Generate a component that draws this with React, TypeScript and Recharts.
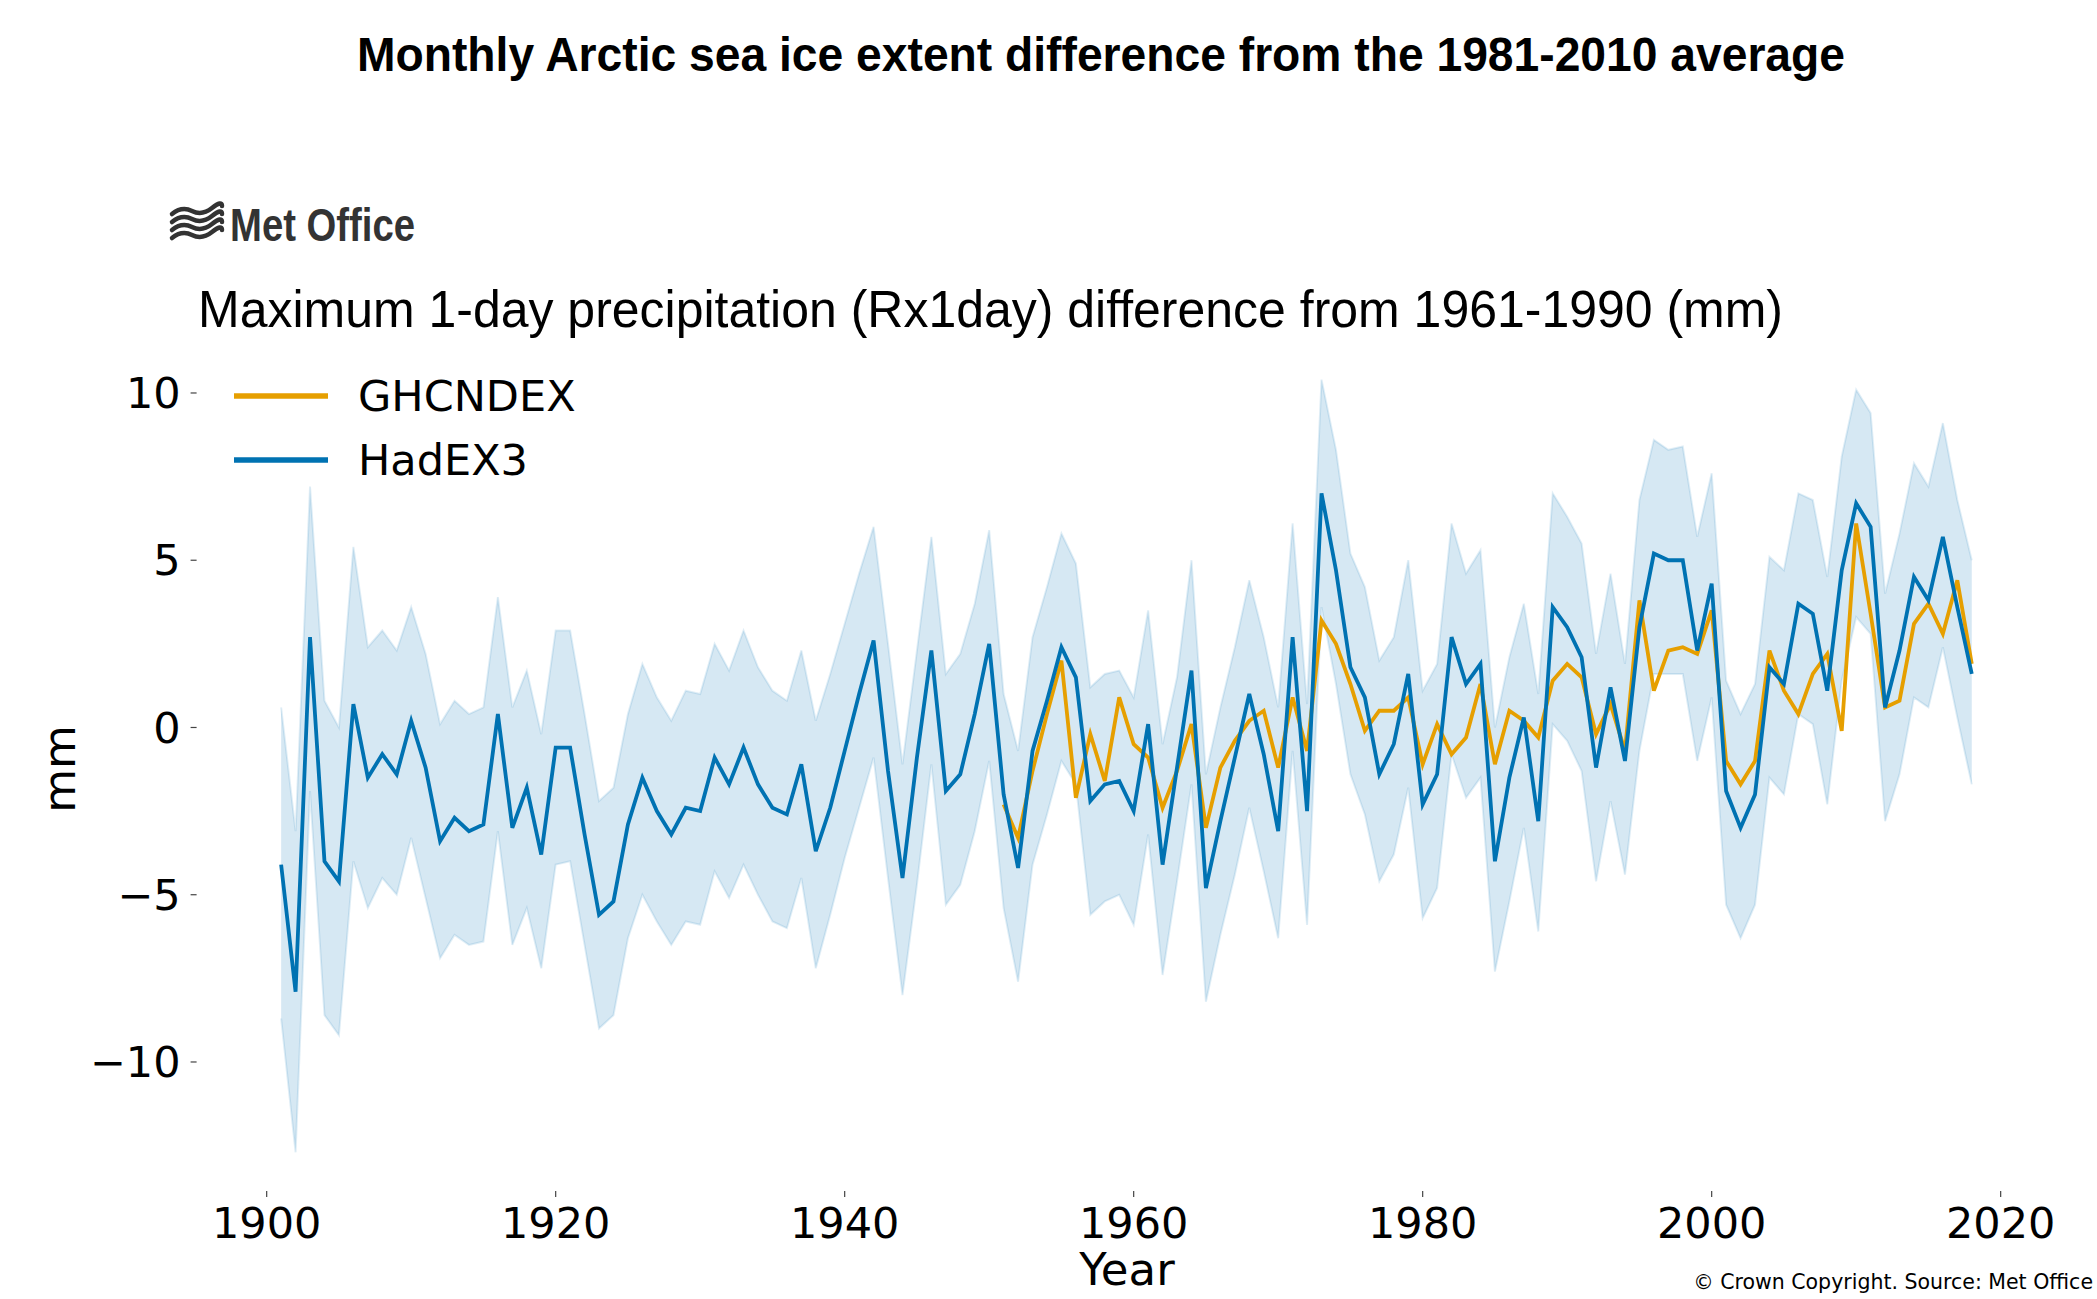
import React from 'react';
import { ComposedChart, Line, Area, XAxis, YAxis } from 'recharts';

const YEARS: number[] = [
  1901, 1902, 1903, 1904, 1905, 1906, 1907, 1908, 1909, 1910,
  1911, 1912, 1913, 1914, 1915, 1916, 1917, 1918, 1919, 1920,
  1921, 1922, 1923, 1924, 1925, 1926, 1927, 1928, 1929, 1930,
  1931, 1932, 1933, 1934, 1935, 1936, 1937, 1938, 1939, 1940,
  1941, 1942, 1943, 1944, 1945, 1946, 1947, 1948, 1949, 1950,
  1951, 1952, 1953, 1954, 1955, 1956, 1957, 1958, 1959, 1960,
  1961, 1962, 1963, 1964, 1965, 1966, 1967, 1968, 1969, 1970,
  1971, 1972, 1973, 1974, 1975, 1976, 1977, 1978, 1979, 1980,
  1981, 1982, 1983, 1984, 1985, 1986, 1987, 1988, 1989, 1990,
  1991, 1992, 1993, 1994, 1995, 1996, 1997, 1998, 1999, 2000,
  2001, 2002, 2003, 2004, 2005, 2006, 2007, 2008, 2009, 2010,
  2011, 2012, 2013, 2014, 2015, 2016, 2017, 2018,
];

const HADEX3: number[] = [
  -4.1, -7.9, 2.7, -4.0, -4.6, 0.7, -1.5, -0.8, -1.4, 0.2,
  -1.2, -3.4, -2.7, -3.1, -2.9, 0.4, -3.0, -1.8, -3.8, -0.6,
  -0.6, -3.2, -5.6, -5.2, -2.9, -1.5, -2.5, -3.2, -2.4, -2.5,
  -0.9, -1.7, -0.6, -1.7, -2.4, -2.6, -1.1, -3.7, -2.4, -0.7,
  1.0, 2.6, -1.3, -4.5, -0.9, 2.3, -1.9, -1.4, 0.4, 2.5,
  -2.0, -4.2, -0.7, 0.8, 2.4, 1.5, -2.2, -1.7, -1.6, -2.5,
  0.1, -4.1, -1.2, 1.7, -4.8, -2.8, -0.9, 1.0, -0.8, -3.1,
  2.7, -2.5, 7.0, 4.7, 1.8, 0.9, -1.4, -0.5, 1.6, -2.3,
  -1.4, 2.7, 1.3, 1.9, -4.0, -1.5, 0.3, -2.8, 3.6, 3.0,
  2.1, -1.2, 1.2, -1.0, 3.0, 5.2, 5.0, 5.0, 2.3, 4.3,
  -1.9, -3.0, -2.0, 1.8, 1.3, 3.7, 3.4, 1.1, 4.7, 6.7,
  6.0, 0.6, 2.3, 4.5, 3.8, 5.7, 3.6, 1.6,
];

const HADEX3_UPPER: number[] = [
  0.6, -3.1, 7.2, 0.8, 0.0, 5.4, 2.4, 2.9, 2.3, 3.6,
  2.2, 0.1, 0.8, 0.4, 0.6, 3.9, 0.6, 1.7, -0.2, 2.9,
  2.9, 0.4, -2.2, -1.8, 0.4, 1.9, 0.9, 0.2, 1.1, 1.0,
  2.5, 1.7, 2.9, 1.8, 1.1, 0.8, 2.3, 0.2, 1.6, 3.1,
  4.6, 6.0, 2.5, -1.1, 2.3, 5.7, 1.6, 2.2, 3.7, 5.9,
  1.0, -0.7, 2.7, 4.2, 5.8, 4.9, 1.2, 1.6, 1.7, 0.9,
  3.5, -0.5, 1.5, 5.0, -1.4, 0.6, 2.4, 4.4, 2.7, 0.6,
  6.1, 0.7, 10.4, 8.3, 5.2, 4.2, 2.0, 2.7, 5.0, 1.1,
  1.9, 6.1, 4.6, 5.3, 0.0, 2.1, 3.7, 1.0, 7.0, 6.3,
  5.5, 2.2, 4.6, 1.9, 6.8, 8.6, 8.3, 8.4, 5.7, 7.6,
  1.4, 0.4, 1.3, 5.1, 4.7, 7.0, 6.8, 4.5, 8.1, 10.1,
  9.4, 4.0, 5.8, 7.9, 7.2, 9.1, 6.8, 5.0,
];

const HADEX3_LOWER: number[] = [
  -8.7, -12.7, -1.9, -8.6, -9.2, -4.0, -5.4, -4.5, -5.0, -3.3,
  -5.1, -6.9, -6.2, -6.5, -6.4, -3.1, -6.5, -5.4, -7.2, -4.1,
  -4.0, -6.5, -9.0, -8.6, -6.3, -5.0, -5.8, -6.5, -5.8, -5.9,
  -4.3, -5.1, -4.1, -5.0, -5.8, -6.0, -4.5, -7.2, -5.6, -3.9,
  -2.4, -0.9, -4.5, -8.0, -4.7, -1.1, -5.3, -4.7, -3.1, -1.0,
  -5.4, -7.6, -4.1, -2.6, -1.0, -1.7, -5.6, -5.2, -5.0, -5.9,
  -3.2, -7.4, -4.6, -1.7, -8.2, -6.2, -4.4, -2.4, -4.3, -6.3,
  -0.7, -5.9, 3.6, 1.3, -1.4, -2.6, -4.6, -3.8, -1.8, -5.7,
  -4.8, -0.8, -2.1, -1.5, -7.3, -5.2, -3.0, -6.1, 0.1, -0.4,
  -1.3, -4.6, -2.2, -4.4, -0.7, 1.6, 1.6, 1.6, -1.0, 0.9,
  -5.3, -6.3, -5.3, -1.5, -2.0, 0.4, 0.1, -2.3, 1.4, 3.3,
  2.8, -2.8, -1.4, 0.9, 0.6, 2.4, 0.3, -1.7,
];

const GHCNDEX_YEARS: number[] = [
  1951, 1952, 1953, 1954, 1955, 1956, 1957, 1958, 1959, 1960,
  1961, 1962, 1963, 1964, 1965, 1966, 1967, 1968, 1969, 1970,
  1971, 1972, 1973, 1974, 1975, 1976, 1977, 1978, 1979, 1980,
  1981, 1982, 1983, 1984, 1985, 1986, 1987, 1988, 1989, 1990,
  1991, 1992, 1993, 1994, 1995, 1996, 1997, 1998, 1999, 2000,
  2001, 2002, 2003, 2004, 2005, 2006, 2007, 2008, 2009, 2010,
  2011, 2012, 2013, 2014, 2015, 2016, 2017, 2018,
];

const GHCNDEX: number[] = [
  -2.3, -3.3, -1.3, 0.4, 2.0, -2.1, -0.2, -1.6, 0.9, -0.5,
  -0.9, -2.4, -1.3, 0.1, -3.0, -1.2, -0.4, 0.2, 0.5, -1.2,
  0.9, -0.7, 3.2, 2.5, 1.3, -0.1, 0.5, 0.5, 0.9, -1.1,
  0.1, -0.8, -0.3, 1.3, -1.1, 0.5, 0.2, -0.3, 1.4, 1.9,
  1.5, -0.2, 0.7, -0.7, 3.8, 1.1, 2.3, 2.4, 2.2, 3.5,
  -1.0, -1.7, -1.0, 2.3, 1.1, 0.4, 1.6, 2.2, -0.1, 6.1,
  3.4, 0.6, 0.8, 3.1, 3.7, 2.8, 4.4, 1.9,
];

const X_TICKS: number[] = [1900, 1920, 1940, 1960, 1980, 2000, 2020];
const Y_TICKS: number[] = [-10, -5, 0, 5, 10];

const SERIES_NAMES = ['GHCNDEX', 'HadEX3'];
const TITLE = 'Monthly Arctic sea ice extent difference from the 1981-2010 average';
const SUBTITLE = 'Maximum 1-day precipitation (Rx1day) difference from 1961-1990 (mm)';

const BLUE = '#0072B2';
const ORANGE = '#E69F00';

const data = YEARS.map((year, i) => {
  const gi = GHCNDEX_YEARS.indexOf(year);
  return {
    year,
    band: [HADEX3_LOWER[i], HADEX3_UPPER[i]],
    had: HADEX3[i],
    ghcn: gi >= 0 ? GHCNDEX[gi] : null,
  };
});

const W = 2097;
const H = 1299;
const PLOT_LEFT = 196.6;
const PLOT_RIGHT = 2056.3;
const PLOT_TOP = 340.8;
const PLOT_BOTTOM = 1191.1;
const Y_AXIS_W = 150;
const X_AXIS_H = 60;

const tickFont = { fontSize: 43, fontFamily: 'DejaVu Sans', fill: '#000' };
const fmtMinus = (v: number) => String(v).replace('-', '\u2212');

export default function App() {
  return (
    <div style={{ position: 'absolute', left: 0, top: 0, width: W, height: H, background: '#fff' }}>
      <ComposedChart
        width={W}
        height={H}
        data={data}
        margin={{
          top: PLOT_TOP,
          left: PLOT_LEFT - Y_AXIS_W,
          right: W - PLOT_RIGHT,
          bottom: H - PLOT_BOTTOM - X_AXIS_H,
        }}
      >
        <XAxis
          dataKey="year"
          type="number"
          domain={[1895.15, 2023.85]}
          allowDataOverflow
          ticks={X_TICKS}
          axisLine={false}
          tickLine={{ stroke: '#444', strokeWidth: 1.2 }}
          tickSize={6}
          tickMargin={10}
          height={X_AXIS_H}
          tick={tickFont}
          interval={0}
        />
        <YAxis
          type="number"
          domain={[-13.86, 11.56]}
          allowDataOverflow
          ticks={Y_TICKS}
          axisLine={false}
          tickLine={{ stroke: '#444', strokeWidth: 1.2 }}
          tickSize={6}
          tickMargin={10}
          width={Y_AXIS_W}
          tick={tickFont}
          tickFormatter={fmtMinus}
          interval={0}
        />
        <Area
          dataKey="band"
          type="linear"
          fill={BLUE}
          fillOpacity={0.16}
          stroke={BLUE}
          strokeOpacity={0.12}
          strokeWidth={2}
          isAnimationActive={false}
          activeDot={false}
        />
        <Line
          dataKey="ghcn"
          type="linear"
          stroke={ORANGE}
          strokeWidth={3.8}
          dot={false}
          connectNulls={false}
          isAnimationActive={false}
          name={SERIES_NAMES[0]}
        />
        <Line
          dataKey="had"
          type="linear"
          stroke={BLUE}
          strokeWidth={3.8}
          dot={false}
          isAnimationActive={false}
          name={SERIES_NAMES[1]}
        />
      </ComposedChart>
      <svg
        width={W}
        height={H}
        style={{ position: 'absolute', left: 0, top: 0, pointerEvents: 'none' }}
      >
        <text
          x={1101}
          y={71}
          textAnchor="middle"
          fontFamily="Liberation Sans, Arial, sans-serif"
          fontWeight={700}
          fontSize={48}
          textLength={1488}
          lengthAdjust="spacingAndGlyphs"
          fill="#000"
        >
          {TITLE}
        </text>
        {/* Met Office logo */}
        <g stroke="#333" strokeWidth={4.5} fill="none" strokeLinecap="round">
          <path d="M172,214 q10,-8 20,-3 t20,-3 t10,-2" />
          <path d="M172,222 q10,-8 20,-3 t20,-3 t10,-2" />
          <path d="M172,230 q10,-8 20,-3 t20,-3 t10,-2" />
          <path d="M172,238 q10,-8 20,-3 t20,-3 t10,-2" />
        </g>
        <text
          x={230}
          y={241}
          fontFamily="Liberation Sans, Arial, sans-serif"
          fontWeight={700}
          fontSize={46}
          textLength={185}
          lengthAdjust="spacingAndGlyphs"
          fill="#333"
        >
          Met Office
        </text>
        <text
          x={198}
          y={327}
          fontFamily="Liberation Sans, Arial, sans-serif"
          fontSize={52}
          textLength={1585}
          lengthAdjust="spacingAndGlyphs"
          fill="#000"
        >
          {SUBTITLE}
        </text>
        {/* legend */}
        <line x1={234} x2={328} y1={396} y2={396} stroke={ORANGE} strokeWidth={5.5} />
        <line x1={234} x2={328} y1={460} y2={460} stroke={BLUE} strokeWidth={5.5} />
        <text x={358} y={411} fontFamily="DejaVu Sans" fontSize={43} fill="#000">
          {SERIES_NAMES[0]}
        </text>
        <text x={358} y={475} fontFamily="DejaVu Sans" fontSize={43} fill="#000">
          {SERIES_NAMES[1]}
        </text>
        {/* axis labels */}
        <text
          x={0}
          y={0}
          transform="translate(59,769) rotate(-90)"
          textAnchor="middle"
          dominantBaseline="central"
          fontFamily="DejaVu Sans"
          fontSize={45}
          fill="#000"
        >
          mm
        </text>
        <text x={1127} y={1285} textAnchor="middle" fontFamily="DejaVu Sans" fontSize={45} fill="#000">
          Year
        </text>
        <text x={2093} y={1289} textAnchor="end" fontFamily="DejaVu Sans" fontSize={20.5} fill="#000">
          © Crown Copyright. Source: Met Office
        </text>
      </svg>
    </div>
  );
}
